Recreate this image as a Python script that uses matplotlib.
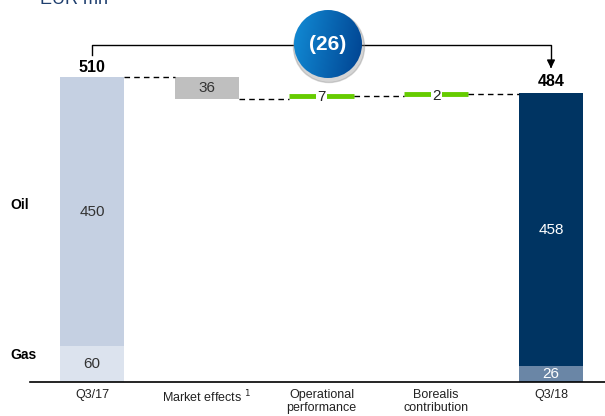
import matplotlib
matplotlib.use("Agg")
import matplotlib.pyplot as plt
import numpy as np
from matplotlib.patches import Circle

plt.rcParams['font.family'] = ['Liberation Sans', 'DejaVu Sans']

categories = ["Q3/17", "Market effects $^{1}$", "Operational\nperformance", "Borealis\ncontribution", "Q3/18"]
start_gas, start_oil = 60, 450
end_gas, end_oil = 26, 458
changes = [-36, 7, 2]
start_total, end_total = 510, 484
delta_label = "(26)"

W, H = 605, 416
fig = plt.figure(figsize=(W / 100, H / 100), dpi=100)

px_per_unit = 0.598
base_px = 382
ymin = -(H - base_px) / px_per_unit
ymax = base_px / px_per_unit
x0_px, step_px = 92, 114.75
xmin = -x0_px / step_px
xmax = (W - x0_px) / step_px

ax = fig.add_axes([0, 0, 1, 1])
ax.set_xlim(xmin, xmax)
ax.set_ylim(ymin, ymax)
ax.axis('off')

bw = 0.558
c_oil17, c_gas17 = '#C5D0E2', '#DCE3EE'
c_oil18, c_gas18 = '#003462', '#6A86A6'
c_gray, c_green = '#BFBFBF', '#66CC00'

# start bar
ax.bar(0, start_gas, bw, color=c_gas17)
ax.bar(0, start_oil, bw, bottom=start_gas, color=c_oil17)
ax.text(0, start_gas / 2, str(start_gas), ha='center', va='center', fontsize=11, color='#333333')
ax.text(0, start_gas + start_oil / 2, str(start_oil), ha='center', va='center', fontsize=11, color='#333333')
ax.text(0, start_total + 16, str(start_total), ha='center', va='center', fontsize=11.5, fontweight='bold')

# end bar
ax.bar(4, end_gas, bw, color=c_gas18)
ax.bar(4, end_oil, bw, bottom=end_gas, color=c_oil18)
ax.text(4, end_gas / 2, str(end_gas), ha='center', va='center', fontsize=11, color='white')
ax.text(4, end_gas + end_oil / 2, str(end_oil), ha='center', va='center', fontsize=11, color='white')
ax.text(4, end_total + 18, str(end_total), ha='center', va='center', fontsize=11.5, fontweight='bold')

# changes
level = start_total
levels = [level]
for i, ch in enumerate(changes):
    x = i + 1
    new = level + ch
    if ch < 0:
        ax.bar(x, -ch, bw, bottom=new, color=c_gray)
        ax.text(x, new - ch / 2, str(abs(ch)), ha='center', va='center', fontsize=11, color='#333333')
    else:
        ax.plot([x - bw / 2, x + bw / 2], [new - 2, new - 2], color=c_green, lw=3.5, solid_capstyle='butt')
        ax.text(x, new - 4, str(ch), ha='center', va='center', fontsize=11, color='#222222',
                bbox=dict(facecolor='white', edgecolor='none', pad=1))
    level = new
    levels.append(level)

# connectors
conn_levels = [start_total, levels[1], levels[2] - 2, levels[3] - 1]
for i, lv in enumerate(conn_levels):
    ax.plot([i + bw / 2, i + 1 - bw / 2], [lv, lv], color='black', lw=1, dashes=(4, 3))

# baseline
ax.plot([(30 / step_px) + xmin, xmax], [0, 0], color='black', lw=1.2)

# category labels
for i, c in enumerate(categories):
    ax.text(i, -12, c, ha='center', va='top', fontsize=9, color='#222222', linespacing=1.1)

ax.text(xmin + 10 / step_px, 296, "Oil", ha='left', va='center', fontsize=10, fontweight='bold')
ax.text(xmin + 10 / step_px, 45, "Gas", ha='left', va='center', fontsize=10, fontweight='bold')

# bracket
yb = 563
ax.plot([0, 0, 4, 4], [547, yb, yb, 530], color='black', lw=1)
ax.annotate('', xy=(4, 520), xytext=(4, 532),
            arrowprops=dict(arrowstyle='-|>', color='black', lw=1, mutation_scale=12))

# circle overlay (pixel coordinates)
ax2 = fig.add_axes([0, 0, 1, 1])
ax2.set_xlim(0, W)
ax2.set_ylim(H, 0)
ax2.axis('off')
cx, cy, r = 328, 44, 34
sh = Circle((cx + 1, cy + 3), r + 1.5, color='#888888', alpha=0.35, zorder=1)
ax2.add_patch(sh)
gx = np.linspace(0, 1, 200)
gy = np.linspace(0, 1, 200)
GX, GY = np.meshgrid(gx, gy)
t = np.clip(0.85 * GX + 0.15 * GY, 0, 1)
c1 = np.array([0x12, 0x8c, 0xd6]) / 255
c2 = np.array([0x00, 0x42, 0x90]) / 255
img = c1[None, None, :] * (1 - t[..., None]) + c2[None, None, :] * t[..., None]
im = ax2.imshow(img, extent=(cx - r, cx + r, cy + r, cy - r), zorder=2, interpolation='bilinear')
clip = Circle((cx, cy), r, transform=ax2.transData)
im.set_clip_path(clip)
ax2.text(cx, cy + 1, delta_label, ha='center', va='center', fontsize=15, fontweight='bold', color='white', zorder=3)

# title, cut off at the top edge as in the reference
fig.text(40 / W, 1 - 4 / H, "EUR mn", ha='left', va='baseline', fontsize=13, color='#1F3F6E')

fig.savefig("out.png", dpi=100)
